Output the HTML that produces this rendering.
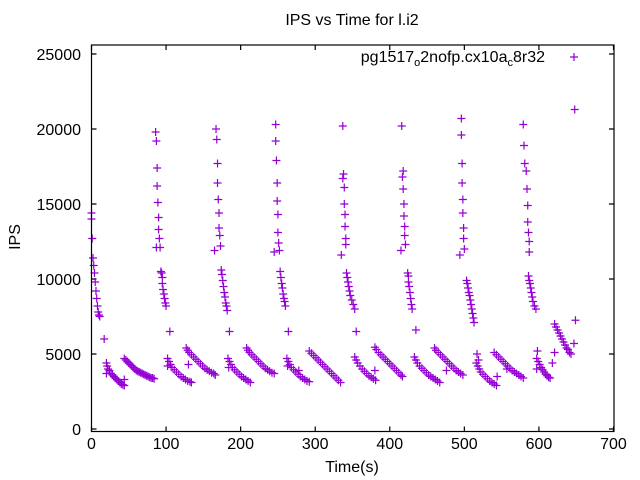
<!DOCTYPE html>
<html><head><meta charset="utf-8">
<style>
html,body{margin:0;padding:0;background:#fff;}
svg{display:block;font-family:"Liberation Sans",sans-serif;}
</style></head>
<body>
<svg id="chart" width="640" height="480" viewBox="0 0 640 480" xmlns="http://www.w3.org/2000/svg">
<rect x="0" y="0" width="640" height="480" fill="#fff"/>
<text x="352" y="25" font-size="16" text-anchor="middle">IPS vs Time for l.i2</text>
<text x="352" y="472" font-size="16" text-anchor="middle">Time(s)</text>
<text transform="translate(20,237) rotate(-90)" font-size="16" text-anchor="middle">IPS</text>
<g id="ticks"></g>
<g id="points"></g>
<rect x="91.5" y="45" width="522.5" height="386.5" fill="none" stroke="#000" stroke-width="1.2"/>
<g>
<text x="545" y="62" font-size="16" text-anchor="end">pg1517<tspan font-size="11" dy="4">o</tspan><tspan dy="-4">2nofp.cx10a</tspan><tspan font-size="11" dy="4">c</tspan><tspan dy="-4">8r32</tspan></text>
<path d="M570,57h8M574,53v8" stroke="#9400d3" stroke-width="1.2"/>
</g>
</svg>
<script>
const xTicks=[0,100,200,300,400,500,600,700];
const yTicks=[0,5000,10000,15000,20000,25000];
const times=[
0,0,1,2,3,4,5,6,7,8,9,10,11,17,
20,21,22,24,26,28,30,32,34,36,38,40,42,44,20,44,
44,46,48,50,52,54,56,58,60,62,64,66,68,70,72,74,76,78,80,82,84,
86,87,88,88,89,90,90,91,92,87,
93,94,95,95,96,97,98,99,100,105,
102,104,106,108,111,114,117,120,123,126,129,132,134,102,130,
127,129,131,134,137,140,143,146,149,152,155,158,161,164,166,
167,168,169,169,170,171,171,172,173,165,
174,175,176,177,178,179,180,181,182,185,
183,185,187,189,192,195,198,201,204,207,210,213,184,
208,210,212,215,218,221,224,227,230,233,236,239,242,245,
247,247,248,249,249,250,250,251,252,245,
253,254,255,256,257,258,259,260,264,
262,264,266,268,271,274,277,280,283,286,289,292,263,278,
292,295,298,301,304,307,310,313,316,319,322,325,328,331,334,
337,338,337,339,339,340,340,341,341,335,
342,343,344,345,346,347,349,351,353,355,
353,355,357,360,363,366,369,372,375,378,381,380,
380,382,385,388,391,394,397,400,403,406,409,412,415,417,
416,418,417,418,419,419,420,420,421,415,
424,425,425,426,427,428,429,430,435,
433,435,437,440,443,446,449,452,455,458,461,464,467,
460,462,465,468,471,474,477,480,483,486,489,492,495,498,476,
496,496,497,497,498,498,499,499,500,494,
503,504,505,506,507,508,509,510,511,512,513,517,
516,518,520,522,525,528,531,534,537,540,543,519,544,
540,543,546,549,552,555,558,561,564,567,570,573,576,579,557,
579,580,581,583,584,585,585,586,587,587,
586,587,588,589,590,591,592,594,596,
597,599,601,603,605,607,609,611,613,615,598,597,618,621,
621,623,625,627,629,631,633,635,637,639,641,643,
648,649,647
];
const ips=[
14400,14000,12700,11400,10900,10400,9800,9200,8700,8200,7800,7600,7500,6000,
4400,4200,4000,3900,3700,3600,3500,3400,3300,3200,3100,3000,2950,2900,3700,3300,
4700,4600,4500,4400,4300,4200,4100,4000,3900,3850,3800,3750,3700,3650,3600,3550,3500,3450,3400,3400,3350,
19800,19200,17400,16200,15100,14100,13300,12700,12100,12100,
10500,10400,10100,9700,9300,9000,8700,8400,8200,6500,
4700,4500,4300,4100,3950,3800,3650,3500,3400,3300,3200,3150,3100,4200,4300,
5400,5250,5100,4950,4800,4650,4500,4350,4200,4050,3950,3850,3750,3700,3600,
20000,19300,17700,16400,15300,14400,13400,12900,12200,11900,
10600,10300,9900,9500,9100,8800,8400,8200,7900,6500,
4700,4500,4300,4100,3950,3800,3650,3500,3400,3300,3200,3100,4100,
5400,5250,5100,4950,4800,4650,4500,4350,4200,4050,3950,3850,3750,3700,
20300,19200,17900,16400,15200,14300,13100,12400,11900,11800,
10500,10100,9700,9400,9000,8700,8500,8200,6500,
4700,4500,4300,4100,3950,3800,3650,3500,3400,3300,3200,3150,4200,3900,
5200,5050,4900,4750,4600,4450,4300,4150,4000,3850,3700,3550,3400,3250,3100,
20200,17000,16700,16100,15000,14300,13500,12700,12300,11600,
10400,10100,9800,9500,9200,8900,8600,8300,8000,6500,
4800,4600,4400,4200,4000,3850,3700,3550,3450,3350,3250,3900,
5450,5300,5100,4950,4800,4650,4500,4350,4200,4050,3900,3750,3600,3500,
20200,17200,16800,16000,15000,14200,13500,12900,12300,11900,
10400,10200,9800,9500,9100,8700,8300,8000,6600,
4800,4600,4400,4200,4050,3900,3750,3600,3500,3400,3300,3200,3100,
5400,5250,5100,4950,4800,4650,4500,4350,4200,4050,3900,3800,3700,3600,3900,
20700,19600,17700,16400,15300,14400,13400,12700,12000,11600,
9900,9700,9400,9100,8900,8600,8300,8000,7700,7400,7100,5000,
4400,4200,4000,3800,3650,3500,3350,3200,3100,3000,2900,4600,3500,
5100,4950,4800,4650,4500,4350,4200,4050,3900,3800,3700,3600,3500,3400,4000,
20300,18900,17700,17200,16000,14900,13800,13100,12500,11800,
10200,9900,9700,9400,9100,8800,8500,8200,8000,
4700,4500,4300,4100,3950,3800,3650,3550,3450,3400,5200,4000,4400,5100,
7000,6800,6600,6400,6200,6000,5800,5600,5400,5300,5100,5000,
21300,7250,5700
];
const X0=91.5, XS=0.7457, Y0=429, YS=0.015;
function sx(t){return X0+t*XS;}
function sy(v){return Y0-v*YS;}
const NS="http://www.w3.org/2000/svg";
const tg=document.getElementById('ticks');
xTicks.forEach(function(t){
  const x=sx(t);
  const l=document.createElementNS(NS,'path');
  l.setAttribute('d','M'+x+',431.5v-5M'+x+',45v5');
  l.setAttribute('stroke','#000');l.setAttribute('stroke-width','1.2');
  
  
  tg.appendChild(l);
  const tx=document.createElementNS(NS,'text');
  tx.setAttribute('x',x);tx.setAttribute('y',449);
  tx.setAttribute('font-size','16');tx.setAttribute('text-anchor','middle');
  tx.textContent=t;
  
  
  tg.appendChild(tx);
});
yTicks.forEach(function(v){
  const y=sy(v);
  const l=document.createElementNS(NS,'path');
  l.setAttribute('d','M91.5,'+y+'h5M614,'+y+'h-5');
  l.setAttribute('stroke','#000');l.setAttribute('stroke-width','1.2');
  
  
  tg.appendChild(l);
  const tx=document.createElementNS(NS,'text');
  tx.setAttribute('x',81);tx.setAttribute('y',y+6);
  tx.setAttribute('font-size','16');tx.setAttribute('text-anchor','end');
  tx.textContent=v;
  
  
  tg.appendChild(tx);
});
const pg=document.getElementById('points');
let d='';
for(let i=0;i<times.length;i++){
  const x=sx(times[i]), y=sy(ips[i]);
  d+='M'+(x-4)+','+y+'h8M'+x+','+(y-4)+'v8';
}
const p=document.createElementNS(NS,'path');
p.setAttribute('d',d);
p.setAttribute('stroke','#9400d3');p.setAttribute('stroke-width','1.2');p.setAttribute('fill','none');


pg.appendChild(p);
</script>
</body></html>
